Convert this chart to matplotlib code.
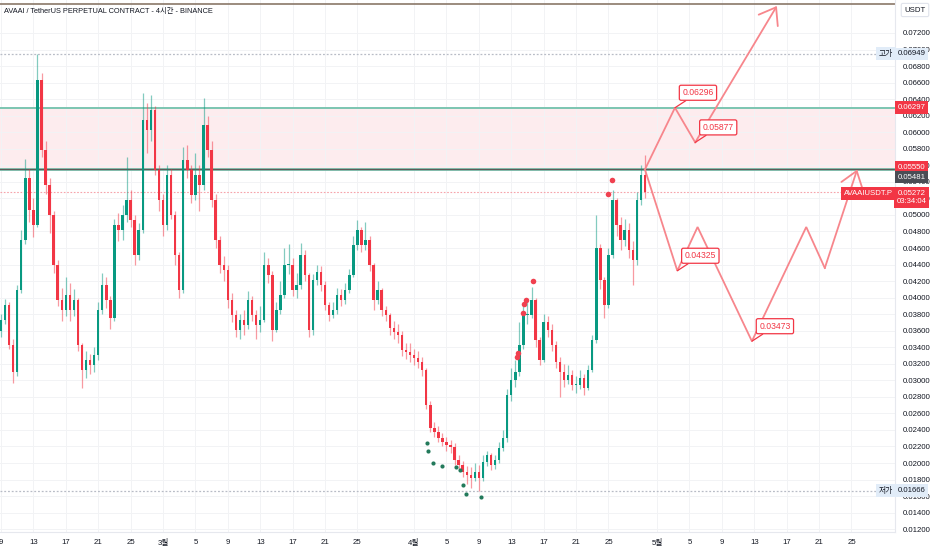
import numpy as np
import pandas as pd
import matplotlib.pyplot as plt
import matplotlib.dates as mdates
import matplotlib.transforms as mtransforms

plt.rcParams['font.family'] = ['Liberation Sans', 'Noto Sans CJK KR']

title = 'AVAAI / TetherUS PERPETUAL CONTRACT - 4시간 - BINANCE'

# 12h candles, starting Feb 9
candle_start = '2025-02-09 00:00'
first_open = 0.0360
close = [
    0.03730, 0.03911, 0.03427, 0.03101, 0.04092, 0.04697, 0.05447, 0.05060, 0.04878, 0.06632,
    0.05785, 0.05362, 0.04999, 0.04394, 0.03971, 0.03850, 0.04032, 0.03850, 0.03971, 0.03427,
    0.03125, 0.03246, 0.03185, 0.03306, 0.03850, 0.04153, 0.03971, 0.03754, 0.04878, 0.04818,
    0.04999, 0.05181, 0.04939, 0.04515, 0.04818, 0.06148, 0.06027, 0.06269, 0.05543, 0.05181,
    0.04878, 0.05483, 0.04999, 0.04515, 0.04092, 0.05664, 0.05543, 0.05241, 0.05483, 0.05362,
    0.06087, 0.05785, 0.05181, 0.04697, 0.04394, 0.04334, 0.03971, 0.03790, 0.03609, 0.03730,
    0.03669, 0.03971, 0.03790, 0.03669, 0.03730, 0.04394, 0.04274, 0.03609, 0.03850, 0.04032,
    0.04394, 0.04394, 0.04092, 0.04153, 0.04515, 0.04274, 0.03609, 0.04213, 0.04310, 0.04153,
    0.03911, 0.03790, 0.03850, 0.04032, 0.03971, 0.04092, 0.04274, 0.04636, 0.04818, 0.04636,
    0.04697, 0.04394, 0.03971, 0.04092, 0.03850, 0.03790, 0.03633, 0.03584, 0.03548, 0.03367,
    0.03343, 0.03306, 0.03270, 0.03222, 0.03125, 0.02702, 0.02423, 0.02375, 0.02303, 0.02254,
    0.02218, 0.02194, 0.02037, 0.01976, 0.01892, 0.01855, 0.01819, 0.01892, 0.01819, 0.02013,
    0.02097, 0.01976, 0.02037, 0.02182, 0.02303, 0.02823, 0.03004, 0.03101, 0.03427, 0.03790,
    0.03790, 0.03971, 0.03488, 0.03246, 0.03705, 0.03609, 0.03427, 0.03222, 0.03101, 0.03004,
    0.03064, 0.02944, 0.02944, 0.03028, 0.02907, 0.03125, 0.03488, 0.04600, 0.04213, 0.03911,
    0.04515, 0.05181, 0.04878, 0.04697, 0.04818, 0.04576, 0.04455, 0.05181, 0.05483, 0.05272,
]
high = [
    0.0380, 0.0398, 0.0395, 0.0350, 0.0415, 0.0482, 0.0568, 0.0556, 0.0520, 0.06949,
    0.0672, 0.0590, 0.0545, 0.0505, 0.0445, 0.0412, 0.0425, 0.0418, 0.0410, 0.0400,
    0.0345, 0.0335, 0.0332, 0.0340, 0.0395, 0.0430, 0.0425, 0.0402, 0.0495, 0.0502,
    0.0512, 0.0570, 0.0530, 0.0500, 0.0490, 0.0647, 0.0635, 0.0645, 0.0632, 0.0560,
    0.0525, 0.0560, 0.0555, 0.0505, 0.0455, 0.0582, 0.0585, 0.0560, 0.0575, 0.0560,
    0.0641, 0.0620, 0.0590, 0.0525, 0.0475, 0.0450, 0.0440, 0.0405, 0.0385, 0.0380,
    0.0385, 0.0408, 0.0402, 0.0385, 0.0390, 0.0455, 0.0448, 0.0432, 0.0395, 0.0420,
    0.0460, 0.0465, 0.0448, 0.0430, 0.0466, 0.0458, 0.0430, 0.0428, 0.0440, 0.0438,
    0.0420, 0.0395, 0.0395, 0.0412, 0.0410, 0.0418, 0.0435, 0.0475, 0.0494, 0.0485,
    0.0491, 0.0475, 0.0442, 0.0420, 0.0412, 0.0390, 0.0382, 0.0372, 0.0368, 0.0360,
    0.0345, 0.0345, 0.0338, 0.0335, 0.0328, 0.0315, 0.0275, 0.0250, 0.0245, 0.0236,
    0.0232, 0.0228, 0.0224, 0.0210, 0.0203, 0.0196, 0.0195, 0.0200, 0.0198, 0.0210,
    0.0215, 0.0212, 0.0210, 0.0225, 0.0240, 0.0290, 0.0315, 0.0325, 0.0370, 0.0392,
    0.0395, 0.0413, 0.0400, 0.0352, 0.0380, 0.0378, 0.0368, 0.0348, 0.0328, 0.0320,
    0.0318, 0.0312, 0.0305, 0.0312, 0.0308, 0.0318, 0.0355, 0.0500, 0.0465, 0.0425,
    0.0460, 0.0530, 0.0520, 0.0498, 0.0495, 0.0490, 0.0468, 0.0528, 0.0560, 0.0572,
]
low = [
    0.0352, 0.0368, 0.0338, 0.0297, 0.0305, 0.0405, 0.0465, 0.0492, 0.0473, 0.0485,
    0.0570, 0.0525, 0.0478, 0.0430, 0.0390, 0.0372, 0.0378, 0.0372, 0.0378, 0.0335,
    0.0291, 0.0303, 0.0308, 0.0310, 0.0325, 0.0380, 0.0388, 0.0362, 0.0372, 0.0468,
    0.0470, 0.0492, 0.0485, 0.0440, 0.0445, 0.0478, 0.0575, 0.0590, 0.0548, 0.0505,
    0.0475, 0.0482, 0.0495, 0.0440, 0.0400, 0.0405, 0.0545, 0.0515, 0.0518, 0.0505,
    0.0530, 0.0570, 0.0510, 0.0460, 0.0430, 0.0420, 0.0388, 0.0370, 0.0352, 0.0350,
    0.0355, 0.0362, 0.0372, 0.0350, 0.0358, 0.0370, 0.0418, 0.0348, 0.0358, 0.0380,
    0.0400, 0.0428, 0.0402, 0.0400, 0.0410, 0.0420, 0.0352, 0.0355, 0.0415, 0.0408,
    0.0385, 0.0372, 0.0375, 0.0380, 0.0390, 0.0392, 0.0405, 0.0425, 0.0458, 0.0455,
    0.0458, 0.0432, 0.0385, 0.0392, 0.0378, 0.0372, 0.0355, 0.0350, 0.0345, 0.0330,
    0.0326, 0.0322, 0.0318, 0.0315, 0.0305, 0.0265, 0.0238, 0.0232, 0.0225, 0.0220,
    0.0215, 0.0212, 0.0198, 0.0192, 0.0183, 0.0175, 0.0170, 0.0178, 0.01666, 0.0178,
    0.0196, 0.0192, 0.0193, 0.0200, 0.0215, 0.0226, 0.0275, 0.0292, 0.0305, 0.0338,
    0.0368, 0.0375, 0.0340, 0.0318, 0.0322, 0.0352, 0.0335, 0.0315, 0.0280, 0.0292,
    0.0295, 0.0288, 0.0285, 0.0290, 0.0282, 0.0288, 0.0310, 0.0345, 0.0410, 0.0375,
    0.0388, 0.0448, 0.0475, 0.0458, 0.0462, 0.0448, 0.0415, 0.0440, 0.0512, 0.0520,
]

# horizontal levels
top_ray = 0.07551
high_price = 0.06949
zone_top = 0.06297
zone_bottom = 0.05550
last_close = 0.05481
cur_price = 0.05272
low_price = 0.01666

# projected path drawn on the chart
up_dates = ['2025-04-29 12:00', '2025-05-03 05:00', '2025-05-05 17:00', '2025-05-15 19:00']
up_prices = [0.0555, 0.06296, 0.05877, 0.07527]
down_dates = ['2025-04-29 12:00', '2025-05-03 12:00', '2025-05-06 00:00', '2025-05-12 17:00',
              '2025-05-19 10:00', '2025-05-21 17:00', '2025-05-25 17:00']
down_prices = [0.0555, 0.04325, 0.04854, 0.03473, 0.04854, 0.04358, 0.0555]
tag_dates = ['2025-05-03 05:00', '2025-05-05 17:00', '2025-05-03 12:00', '2025-05-12 17:00']
tag_prices = [0.06296, 0.05877, 0.04325, 0.03473]

# indicator dots
green_dates = ['2025-04-02 14:00', '2025-04-02 17:00', '2025-04-03 07:00', '2025-04-04 10:00',
               '2025-04-06 05:00', '2025-04-06 17:00', '2025-04-07 00:00', '2025-04-07 10:00',
               '2025-04-09 07:00']
green_prices = [0.02242, 0.02146, 0.02001, 0.01964, 0.01952, 0.01916, 0.01734, 0.01625, 0.01589]
red_dates = ['2025-04-13 17:00', '2025-04-13 19:00', '2025-04-14 10:00', '2025-04-14 14:00',
             '2025-04-14 19:00', '2025-04-15 17:00', '2025-04-24 22:00', '2025-04-25 10:00']
red_prices = [0.03282, 0.03330, 0.03814, 0.03923, 0.03971, 0.04201, 0.05253, 0.05422]

tick_dates = ['2025-02-09', '2025-02-13', '2025-02-17', '2025-02-21', '2025-02-25',
              '2025-03-01', '2025-03-05', '2025-03-09', '2025-03-13', '2025-03-17',
              '2025-03-21', '2025-03-25', '2025-04-01', '2025-04-05', '2025-04-09',
              '2025-04-13', '2025-04-17', '2025-04-21', '2025-04-25', '2025-05-01',
              '2025-05-05', '2025-05-09', '2025-05-13', '2025-05-17', '2025-05-21',
              '2025-05-25']
tick_labels = ['9', '13', '17', '21', '25', '3월', '5', '9', '13', '17', '21', '25',
               '4월', '5', '9', '13', '17', '21', '25', '5월', '5', '9', '13', '17', '21', '25']

UP = '#089981'
DOWN = '#f23645'
PATH = '#f7868c'
TXT = '#131722'
FS = 5.6

def dn(dates):
    return mdates.date2num(pd.to_datetime(dates))

times = pd.date_range(candle_start, periods=len(close), freq='12h')
x = mdates.date2num(times)
c = np.array(close)
o = np.r_[first_open, c[:-1]]
h = np.array(high)
l = np.array(low)
up = c >= o
colors = np.where(up, UP, DOWN)

fig = plt.figure(figsize=(9.32, 5.5), dpi=100)
ax = fig.add_axes([0, 18 / 550, 895 / 932, 532 / 550])

# zone + levels
ax.axhspan(zone_bottom, zone_top, color='#fdecee', zorder=0)
ax.axhline(top_ray, color='#8a7868', lw=1.2, zorder=1)
ax.axhline(high_price, color='#b8bcc6', lw=0.9, ls=(0, (1.5, 1.5)), zorder=1)
ax.axhline(low_price, color='#b8bcc6', lw=0.9, ls=(0, (1.5, 1.5)), zorder=1)
ax.axhline(zone_top, color='#7cc5b1', lw=1.4, zorder=1)
ax.axhline(zone_bottom, color='#7cc5b1', lw=2.0, zorder=1)
ax.axhline(zone_bottom, color='#5e5a58', lw=0.9, zorder=1)
ax.axhline(cur_price, color='#f6a3aa', lw=0.8, ls=(0, (1.5, 1.5)), zorder=1)

# candles
ax.vlines(x, l, h, colors=colors, lw=0.9, alpha=0.5, zorder=2)
body = np.maximum(np.abs(c - o), 0.0001)
ax.bar(x, body, bottom=np.minimum(o, c), width=0.3, color=colors, zorder=3)

# dots
ax.scatter(dn(green_dates), green_prices, s=9, color='#237a5b', zorder=4, lw=0)
ax.scatter(dn(red_dates), red_prices, s=16, color='#f0404f', zorder=4, lw=0)

# projected path
ux, dx = dn(up_dates), dn(down_dates)
ax.plot(ux[:-1], up_prices[:-1], color=PATH, lw=1.3, zorder=5, solid_joinstyle='miter')
ax.plot(dx[:-1], down_prices[:-1], color=PATH, lw=1.3, zorder=5, solid_joinstyle='miter')
for xs, ys in [(ux, up_prices), (dx, down_prices)]:
    ax.annotate('', xy=(xs[-1], ys[-1]), xytext=(xs[-2], ys[-2]),
                arrowprops=dict(arrowstyle='->,head_length=1.1,head_width=0.8',
                                color=PATH, lw=1.3, shrinkA=0, shrinkB=0,
                                mutation_scale=10), zorder=5)

for td, tp in zip(dn(tag_dates), tag_prices):
    ax.annotate(f'{tp:.5f}', xy=(td, tp), xytext=(23, 15), textcoords='offset pixels',
                ha='center', va='center', fontsize=6.2, color=DOWN, zorder=6,
                bbox=dict(boxstyle='round,pad=0.35,rounding_size=0.2', fc='white', ec=DOWN, lw=0.9),
                arrowprops=dict(arrowstyle='-', color=DOWN, lw=0.9, shrinkA=0, shrinkB=0))

# axes styling
ax.set_xlim(dn('2025-02-08 21:00'), dn('2025-05-30 09:00'))
ax.set_ylim(0.01166, 0.07599)
ax.set_xticks(dn(tick_dates))
ax.set_xticklabels(tick_labels)
ax.set_yticks(np.arange(0.012, 0.0721, 0.002))
ax.yaxis.tick_right()
ax.yaxis.set_major_formatter(plt.FuncFormatter(lambda v, p: f'{v:.5f}'))
ax.tick_params(axis='y', length=0, pad=5.5, labelsize=FS, labelcolor=TXT)
ax.tick_params(axis='x', length=0, pad=5, labelsize=FS, labelcolor=TXT)
ax.grid(True, color='#f2f3f5', lw=0.7, zorder=0)
ax.set_axisbelow(True)
for s in ['top', 'left']:
    ax.spines[s].set_visible(False)
for s in ['right', 'bottom']:
    ax.spines[s].set_color('#e6e8ee')
    ax.spines[s].set_linewidth(0.8)

# price-scale tags
tr = mtransforms.blended_transform_factory(ax.transAxes, ax.transData)
px = 911.5 / 895

def tag(xa, y, s, fc, tc, dy=0, ha='center'):
    ax.annotate(s, xy=(xa, y), xycoords=tr, xytext=(0, dy), textcoords='offset pixels',
                ha=ha, va='center', fontsize=FS, color=tc, zorder=10,
                annotation_clip=False, linespacing=1.3,
                bbox=dict(boxstyle='square,pad=0.35', fc=fc, ec='none'))

tag(px, high_price, f'{high_price:.5f}', '#e1ecf8', TXT)
tag(893 / 895, high_price, '고가', '#e1ecf8', TXT, ha='right')
tag(px, low_price, f'{low_price:.5f}', '#e1ecf8', TXT)
tag(893 / 895, low_price, '저가', '#e1ecf8', TXT, ha='right')
tag(px, zone_top, f'{zone_top:.5f}', DOWN, 'white')
tag(px, zone_bottom, f'{zone_bottom:.5f}', DOWN, 'white', dy=2)
tag(px, last_close, f'{last_close:.5f}', '#4a4d55', 'white', dy=-2)
tag(px, cur_price, f'{cur_price:.5f}\n03:34:04', DOWN, 'white', dy=-5)
tag(893 / 895, cur_price, 'AVAAIUSDT.P', DOWN, 'white', dy=-1, ha='right')

fig.text(915 / 932, 1 - 10 / 550, 'USDT', ha='center', va='center', fontsize=FS, color=TXT,
         bbox=dict(boxstyle='round,pad=0.4,rounding_size=0.2', fc='white', ec='#e0e3eb', lw=0.8))
fig.text(4 / 932, 1 - 11 / 550, title, ha='left', va='center', fontsize=5.3, color=TXT)

fig.savefig('out.png', dpi=100, facecolor='white')
